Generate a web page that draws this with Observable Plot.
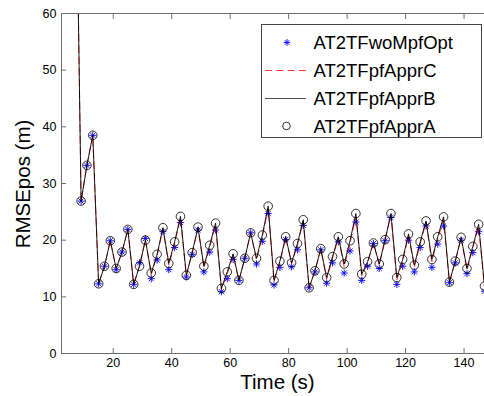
<!DOCTYPE html>
<html><head><meta charset="utf-8">
<script src="https://cdn.jsdelivr.net/npm/d3@7"></script>
<script src="https://cdn.jsdelivr.net/npm/@observablehq/plot@0.6"></script>
<style>body{margin:0;background:#fff} svg{font-family:"Liberation Sans",Arial,sans-serif}</style>
</head><body><div id="chart"></div>
<script>
const time = [3,5,7,9,11,13,15,17,19,21,23,25,27,29,31,33,35,37,39,41,43,45,47,49,51,53,55,57,59,61,63,65,67,69,71,73,75,77,79,81,83,85,87,89,91,93,95,97,99,101,103,105,107,109,111,113,115,117,119,121,123,125,127,129,131,133,135,137,139,141,143,145,147];
const woMpfOpt = [150,130,98,26.9,33.2,38.5,12.3,15.4,19.9,14.8,17.9,21.9,12.2,16.0,20.3,13.2,16.5,21.5,14.8,18.7,23.1,13.5,17.5,21.8,14.4,17.9,21.8,10.9,13.2,16.6,12.9,16.8,21.3,15.8,19.8,24.7,12.1,15.2,20.1,15.3,18.3,22.6,11.6,14.4,18.3,12.4,16.0,19.7,14.2,18.1,23.2,12.9,15.4,19.4,15.0,19.9,24.0,12.2,15.4,20.0,14.4,18.7,22.5,15.2,19.3,22.5,12.5,16.0,20.0,14.1,17.8,21.5,11.0];
const apprC = [150,130,98,26.9,33.2,38.5,12.3,15.4,19.9,14.9,17.9,21.9,12.2,15.6,20.1,13.9,17.2,22.0,15.6,19.4,23.9,13.7,17.7,22.1,15.1,18.7,22.6,11.3,14.0,17.3,12.9,16.8,21.3,16.5,20.6,25.6,12.7,16.0,20.4,15.8,19.1,23.3,11.6,14.5,18.4,13.1,16.8,20.3,15.3,19.4,24.2,13.7,16.0,19.5,15.6,20.0,24.5,13.0,16.2,20.8,15.2,19.4,23.1,16.2,20.2,23.6,12.6,16.2,20.4,14.7,18.6,22.4,11.6];
const apprB = [150,130,98,26.9,33.2,38.5,12.3,15.4,19.9,15.0,17.9,21.9,12.2,15.4,20.0,14.2,17.5,22.2,15.9,19.7,24.2,13.8,17.8,22.3,15.4,19.1,23.0,11.5,14.4,17.6,12.9,16.8,21.3,16.8,20.9,26.0,12.9,16.3,20.6,16.0,19.4,23.6,11.6,14.6,18.5,13.4,17.1,20.6,15.8,19.9,24.7,14.0,16.2,19.5,15.8,20.1,24.7,13.4,16.6,21.1,15.6,19.7,23.4,16.6,20.6,24.1,12.6,16.3,20.5,15.0,18.9,22.8,11.9];
const apprA = [150,130,98,26.9,33.2,38.5,12.3,15.4,19.9,15.0,17.9,21.9,12.2,15.4,20.0,14.2,17.5,22.2,15.9,19.7,24.2,13.8,17.8,22.3,15.4,19.1,23.0,11.5,14.4,17.6,12.9,16.8,21.3,16.8,20.9,26.0,12.9,16.3,20.6,16.0,19.4,23.6,11.6,14.6,18.5,13.4,17.1,20.6,15.8,19.9,24.7,14.0,16.2,19.5,15.8,20.1,24.7,13.4,16.6,21.1,15.6,19.7,23.4,16.6,20.6,24.1,12.6,16.3,20.5,15.0,18.9,22.8,11.9];
const seriesNames = ["AT2TFwoMpfOpt","AT2TFpfApprC","AT2TFpfApprB","AT2TFpfApprA"];
const xTicks = [20,40,60,80,100,120,140];
const yTicks = [0,10,20,30,40,50,60];
const xLabel = "Time (s)";
const yLabel = "RMSEpos (m)";

const data = time.map((t,i)=>({t, w: woMpfOpt[i], c: apprC[i], b: apprB[i], a: apprA[i]}));

const star8 = {draw(ctx, size){
  const r = Math.sqrt(size/Math.PI), d = r*Math.SQRT1_2;
  ctx.moveTo(-r,0);ctx.lineTo(r,0);ctx.moveTo(0,-r);ctx.lineTo(0,r);
  ctx.moveTo(-d,-d);ctx.lineTo(d,d);ctx.moveTo(-d,d);ctx.lineTo(d,-d);
}};
const axisColor = "#6e6e6e";
const xDomain = [2.3,147];

const svg = Plot.plot({
  width: 484, height: 396,
  marginLeft: 61, marginRight: 0, marginTop: 13, marginBottom: 43,
  x: {domain: xDomain},
  y: {domain: [0,60]},
  style: {fontFamily: '"Liberation Sans",Arial,sans-serif', fontSize: "12px", color: "#000", background: "#fff"},
  marks: [
    Plot.dot(data, {x: "t", y: "w", symbol: star8, r: 3.6, stroke: "#0000ff", strokeWidth: 0.9, clip: true}),
    Plot.line(data, {x: "t", y: "c", stroke: "#ff0000", strokeWidth: 0.8, strokeDasharray: "7,4.3", clip: true}),
    Plot.line(data, {x: "t", y: "b", stroke: "#000", strokeWidth: 0.9, clip: true}),
    Plot.dot(data, {x: "t", y: "a", r: 4.3, stroke: "#000", strokeWidth: 0.8, fill: "none", clip: true}),
    Plot.ruleY([0], {stroke: axisColor}),
    Plot.ruleY([60], {stroke: axisColor}),
    Plot.ruleX([xDomain[0]], {stroke: axisColor}),
    Plot.axisX(xTicks, {anchor: "bottom", tickSize: -5, tickFormat: () => "", stroke: axisColor, label: null}),
    Plot.axisX(xTicks, {anchor: "top", tickSize: -5, tickFormat: () => "", stroke: axisColor, label: null}),
    Plot.axisX(xTicks, {anchor: "bottom", tickSize: 0, tickPadding: 5, label: null, fontSize: 12.5}),
    Plot.axisY(yTicks, {anchor: "left", tickSize: -5, tickFormat: () => "", stroke: axisColor, label: null}),
    Plot.axisY(yTicks, {anchor: "left", tickSize: 0, tickPadding: 5, label: null, fontSize: 12.5})
  ]
});

const s = d3.select(svg);
s.append("text").attr("x", 277.5).attr("y", 389).attr("text-anchor", "middle")
  .attr("font-size", 20.5).attr("fill", "#000").text(xLabel);
s.append("text").attr("transform", "translate(30,184) rotate(-90)").attr("text-anchor", "middle")
  .attr("font-size", 20.5).attr("fill", "#000").text(yLabel);

const lg = s.append("g").attr("text-anchor", "start");
lg.append("rect").attr("x", 261.5).attr("y", 24.5).attr("width", 220).attr("height", 113)
  .attr("fill", "#fff").attr("stroke", "#444").attr("stroke-width", 1);
const rows = [42.5, 70.5, 98.5, 126];
lg.append("path").attr("transform", `translate(287,${rows[0]})`)
  .attr("d", d3.symbol(star8, 3.4*3.4*Math.PI)()).attr("stroke", "#0000ff").attr("stroke-width", 0.9).attr("fill", "none");
lg.append("line").attr("x1", 265).attr("x2", 306).attr("y1", rows[1]).attr("y2", rows[1])
  .attr("stroke", "#ff0000").attr("stroke-width", 0.8).attr("stroke-dasharray", "7,4.3");
lg.append("line").attr("x1", 265).attr("x2", 306).attr("y1", rows[2]).attr("y2", rows[2])
  .attr("stroke", "#000").attr("stroke-width", 0.7);
lg.append("circle").attr("cx", 286.5).attr("cy", rows[3]).attr("r", 3.8)
  .attr("stroke", "#000").attr("stroke-width", 0.8).attr("fill", "none");
seriesNames.forEach((n,i) => {
  lg.append("text").attr("x", 313.5).attr("y", rows[i] + 6.5).attr("font-size", 18.5)
    .attr("text-anchor", "start").attr("fill", "#000").text(n);
});

document.getElementById("chart").appendChild(svg);
</script>
</body></html>
